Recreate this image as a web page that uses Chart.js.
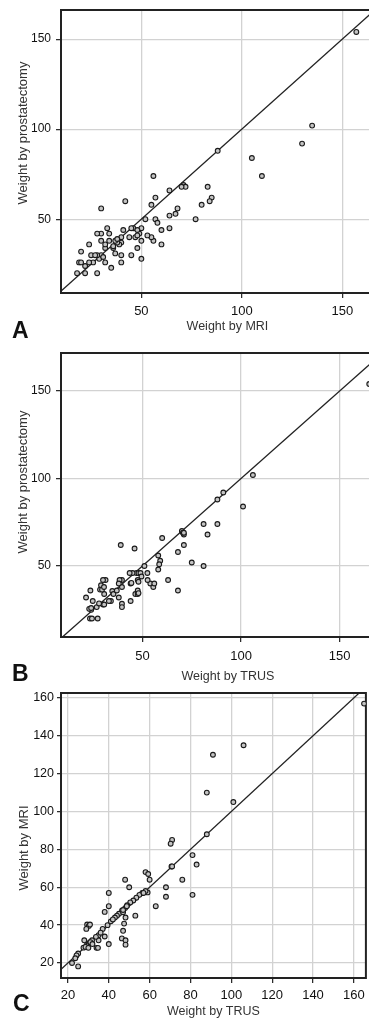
<!DOCTYPE html>
<html>
<head>
<meta charset="utf-8">
<script src="https://cdn.jsdelivr.net/npm/chart.js@4.4.1/dist/chart.umd.min.js"></script>
<style>
  html, body { margin: 0; padding: 0; background: #fff; overflow: hidden; width: 369px; height: 1019px; }
  canvas { position: absolute; left: 0; }
  .tag { position: absolute; font: bold 23px "Liberation Sans Narrow", "Arial Narrow", sans-serif; line-height: 23px; color: #111; }
</style>
</head>
<body>
<canvas id="chartA" width="399" height="340" style="top:0px"></canvas>
<canvas id="chartB" width="400" height="340" style="top:345px"></canvas>
<canvas id="chartC" width="371" height="334" style="top:685px"></canvas>
<div class="tag" style="left:12px; top:319px">A</div>
<div class="tag" style="left:12px; top:662px">B</div>
<div class="tag" style="left:13px; top:992px">C</div>
<script>
// panel A: MRI vs prostatectomy weight
const mriA = [157, 135, 130, 105, 110, 88, 71, 72, 70, 83, 85, 84, 80, 77, 68, 67, 64, 64, 64, 56,
  57, 55, 57, 58, 60, 60, 56, 55, 53, 52, 50, 50, 50, 49, 48, 46, 45, 47, 44, 45,
  42, 41, 40, 40, 40, 40, 39, 38, 36, 35, 34, 33, 32, 32, 32, 30, 30, 30, 30, 28,
  29, 28, 28, 26, 25, 24, 24, 22, 22, 20, 19, 20, 18, 27, 48, 48, 37, 38, 34, 37,
  31, 36];
const prostA = [154, 102, 92, 84, 74, 88, 69, 68, 68, 68, 62, 60, 58, 50, 56, 53, 66, 52, 45, 74,
  62, 58, 50, 48, 44, 36, 38, 40, 41, 50, 45, 38, 28, 42, 34, 45, 45, 40, 40, 30,
  60, 44, 40, 37, 30, 26, 36, 37, 34, 23, 42, 45, 34, 26, 36, 56, 38, 30, 42, 42,
  28, 30, 20, 26, 30, 36, 26, 24, 20, 32, 26, 26, 20, 30, 44, 41, 38, 39, 38, 31,
  29, 35];

// panel B: TRUS vs prostatectomy weight
const trusB = [165, 106, 101, 91, 88, 88, 81, 83, 75, 81, 71, 68, 68, 70, 71, 70.5, 60, 58, 59, 58.5,
  58, 51, 52.5, 63, 54, 55.5, 46, 39, 47, 48, 49, 45, 43.5, 47.6, 47.6, 46.4, 47.6, 44, 44, 49.5,
  39.6, 38.4, 39.6, 38, 38, 39.6, 39.6, 34.7, 35.3, 34, 33, 30.6, 31.3, 30, 29, 28.5, 30, 30.6, 26.8, 24.8,
  23.6, 21.4, 24, 23.4, 24.4, 27.3, 37, 48, 44.4, 29.5, 52.6, 56, 23, 28, 30.5, 48, 24, 71];
const prostB = [154, 102, 84, 92, 88, 74, 74, 68, 52, 50, 62, 58, 36, 70, 68, 69, 66, 56, 53, 51,
  48, 50, 46, 42, 40, 38, 60, 62, 46, 46, 46, 46, 46, 42, 36, 34, 34, 30, 40, 44,
  42, 42, 38, 40, 32, 28.4, 26.5, 35.7, 34, 30, 30, 34, 42, 42, 39, 36.5, 28, 28, 26.5, 30,
  36, 32, 25, 20, 20, 20, 36, 41, 40.3, 36.5, 42, 40, 25.5, 28.6, 38, 34.5, 26, 69];

// panel C: TRUS vs MRI weight
const trusC = [165, 106, 91, 88, 101, 88, 71, 70.3, 70.7, 71, 81, 83, 76, 68, 68, 81, 63, 58, 59.3, 60,
  59, 58, 56.4, 55, 53.5, 52, 50.5, 49, 48, 46.5, 45, 44, 43, 50, 48, 48.8, 48.2, 47, 47.5, 47,
  46.4, 48.2, 48.2, 53, 40, 40, 38, 40, 38, 39.4, 35, 35, 34, 34.7, 29.4, 30.2, 30.8, 29, 28, 29.2,
  30.2, 30.8, 27.6, 28.6, 25, 24.2, 23.6, 22, 25, 31.8, 33.7, 57, 41, 42, 37, 36, 31, 32, 30, 47];
const mriC = [157, 135, 130, 110, 105, 88, 85, 83, 71, 71, 77, 72, 64, 60, 55, 56, 50, 68, 67, 64,
  57.3, 58, 57, 56, 54.5, 53, 52, 50.5, 49, 47.8, 46, 45, 44, 60, 64, 50, 44, 46.8, 40.8, 37,
  33, 32, 29.7, 45, 57, 50, 47, 30, 34, 40, 34.7, 32, 28, 28, 40.3, 39.6, 40.3, 38, 32, 29.4,
  30.2, 31, 28.1, 28.5, 25, 24, 22.5, 20, 18.2, 32, 33.8, 57, 42, 43, 38, 36, 31, 30, 28, 48];

const identityLine = [0, 200];

const ticksAB = [50, 100, 150];
const ticksC = [20, 40, 60, 80, 100, 120, 140, 160];

const FONT = '"Liberation Sans", Arial, Helvetica, sans-serif';

// box around the plot area
const frame = {
  id: 'frame',
  beforeDatasetsDraw(chart) {
    const {ctx, chartArea: a} = chart;
    ctx.save();
    ctx.strokeStyle = '#222';
    ctx.lineWidth = 2;
    ctx.strokeRect(a.left, a.top, a.right - a.left, a.bottom - a.top);
    ctx.restore();
  }
};

// rotated y axis title placed freely
const sideTitle = {
  id: 'sideTitle',
  afterDraw(chart, args, opts) {
    const ctx = chart.ctx;
    ctx.save();
    ctx.translate(opts.x, opts.y);
    ctx.rotate(-Math.PI / 2);
    ctx.fillStyle = '#333';
    ctx.font = '13px ' + FONT;
    ctx.textAlign = 'center';
    ctx.textBaseline = 'middle';
    ctx.fillText(opts.text, 0, 0);
    ctx.restore();
  }
};

function axis(min, max, tickVals, opt) {
  return {
    type: 'linear',
    min: min,
    max: max,
    afterBuildTicks: s => { s.ticks = tickVals.map(v => ({value: v})); },
    afterFit: opt.fit,
    border: {display: false},
    grid: {color: '#d2d2d2', lineWidth: 1.3, tickLength: opt.tickLength, tickColor: '#222', tickWidth: 1.2},
    ticks: {color: '#111', font: {family: FONT, size: opt.size}, padding: opt.padding, maxRotation: 0, autoSkip: false},
    title: opt.title ? {display: true, text: opt.title, color: '#333', font: {family: FONT, size: 12.5},
      padding: {top: 0, bottom: opt.titlePad}} : {display: false}
  };
}

function makePanel(id, xs, ys, cfg) {
  const pts = xs.map((x, i) => ({x: x, y: ys[i]}));
  new Chart(document.getElementById(id), {
    type: 'scatter',
    data: {
      datasets: [
        {data: pts, pointRadius: 2.4, pointBorderWidth: 1.1, borderColor: '#1a1a1a', backgroundColor: '#c4c4c4'},
        {data: identityLine.map(v => ({x: v, y: v})), showLine: true, pointRadius: 0, borderColor: '#222', borderWidth: 1.3}
      ]
    },
    options: {
      responsive: false,
      animation: false,
      events: [],
      layout: {padding: {top: cfg.top, right: 0, left: 0, bottom: 0}},
      plugins: {legend: {display: false}, tooltip: {enabled: false}, sideTitle: cfg.side},
      scales: {
        x: axis(cfg.x[0], cfg.x[1], cfg.xTicks, {
          tickLength: 5, padding: cfg.xPad, size: 13, title: cfg.xTitle, titlePad: cfg.titlePad,
          fit: s => { s.height = cfg.xH; s.paddingLeft = 0; s.paddingRight = 0; }
        }),
        y: axis(cfg.y[0], cfg.y[1], cfg.yTicks, {
          tickLength: cfg.yTick, padding: cfg.yPad, size: cfg.ySize,
          fit: s => { s.width = 61; s.paddingTop = 0; s.paddingBottom = 0; }
        })
      }
    },
    plugins: [frame, sideTitle]
  });
}

makePanel('chartA', mriA, prostA, {
  top: 10, xH: 47, x: [10, 175.7], y: [9, 166.2], xTicks: ticksAB, yTicks: ticksAB,
  xPad: 6, yTick: 5, yPad: 5, ySize: 12, xTitle: 'Weight by MRI', titlePad: 6.4,
  side: {text: 'Weight by prostatectomy', x: 23, y: 133}
});

makePanel('chartB', trusB, prostB, {
  top: 8, xH: 48, x: [8.7, 178], y: [9.43, 171.7], xTicks: ticksAB, yTicks: ticksAB,
  xPad: 7, yTick: 5, yPad: 5, ySize: 12, xTitle: 'Weight by TRUS', titlePad: 1.4,
  side: {text: 'Weight by prostatectomy', x: 23, y: 137}
});

makePanel('chartC', trusC, mriC, {
  top: 8, xH: 41, x: [16.6, 165.9], y: [12.08, 162.6], xTicks: ticksC, yTicks: ticksC,
  xPad: 5, yTick: 4, yPad: 3, ySize: 12.5, xTitle: 'Weight by TRUS', titlePad: 0.4,
  side: {text: 'Weight by MRI', x: 24, y: 163}
});
</script>
</body>
</html>
